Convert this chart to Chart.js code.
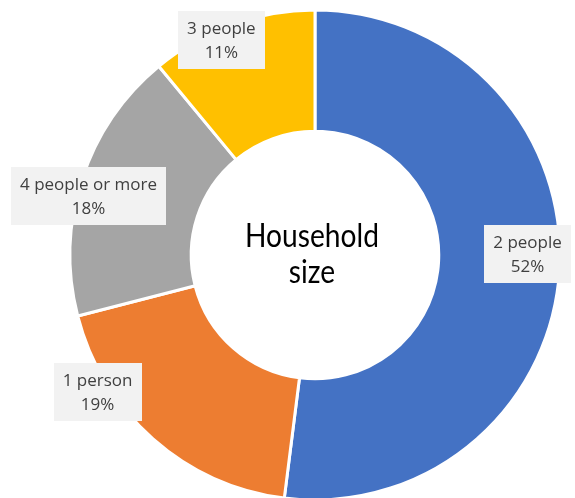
<!DOCTYPE html>
<html>
<head>
<meta charset="utf-8">
<script src="https://cdn.jsdelivr.net/npm/chart.js@4/dist/chart.umd.min.js"></script>
<style>
  html, body { margin: 0; padding: 0; background: #fff; }
  #wrap { width: 575px; height: 498px; }
</style>
</head>
<body>
<div id="wrap"><canvas id="chart" width="575" height="498"></canvas></div>
<script>
// data
var categories = ['2 people', '1 person', '4 people or more', '3 people'];
var shares = [52, 19, 18, 11];
var colours = ['#4472C4', '#ED7D31', '#A5A5A5', '#FFC000'];
var centerLines = ['Household', 'size'];

// label placement tweaks (px) relative to the slice midpoint on the rim
var labelNudge = [[-22, -16], [-62, -39], [-3, 14], [-14, 6]];

var labelPlugin = {
    id: 'boxLabels',
    afterDatasetsDraw: function(chart) {
        var ctx = chart.ctx;
        var meta = chart.getDatasetMeta(0);
        ctx.save();
        ctx.font = '17px "Open Sans"';
        ctx.textAlign = 'center';
        ctx.textBaseline = 'middle';
        meta.data.forEach(function(arc, i) {
            var mid = (arc.startAngle + arc.endAngle) / 2;
            var r = 235;
            var x = arc.x + Math.cos(mid) * r + labelNudge[i][0];
            var y = arc.y + Math.sin(mid) * r + labelNudge[i][1];
            var line1 = categories[i];
            var line2 = shares[i] + '%';
            var w = Math.max(ctx.measureText(line1).width, ctx.measureText(line2).width) + 18;
            var h = 58;
            ctx.fillStyle = '#F2F2F2';
            ctx.fillRect(Math.round(x - w / 2), Math.round(y - h / 2), Math.round(w), h);
            ctx.fillStyle = '#404040';
            ctx.fillText(line1, x, y - 11);
            ctx.fillText(line2, x, y + 13);
        });
        ctx.restore();
    }
};

var centerPlugin = {
    id: 'centerText',
    afterDraw: function(chart) {
        var ctx = chart.ctx;
        var arc = chart.getDatasetMeta(0).data[0];
        ctx.save();
        ctx.translate(arc.x - 3, arc.y);
        ctx.scale(0.88, 1);
        ctx.font = '32px Lato';
        ctx.fillStyle = '#000';
        ctx.textAlign = 'center';
        ctx.textBaseline = 'middle';
        ctx.fillText(centerLines[0], 0, -18);
        ctx.fillText(centerLines[1], 0, 18);
        ctx.restore();
    }
};

new Chart(document.getElementById('chart'), {
    type: 'doughnut',
    data: {
        labels: categories,
        datasets: [{
            data: shares,
            backgroundColor: colours,
            borderColor: '#fff',
            borderWidth: 3
        }]
    },
    options: {
        responsive: false,
        animation: false,
        radius: 245,
        cutout: 122,
        layout: { padding: { left: 72, right: 17, top: 12, bottom: 0 } },
        plugins: {
            legend: { display: false },
            tooltip: { enabled: false }
        }
    },
    plugins: [labelPlugin, centerPlugin]
});
</script>
</body>
</html>
